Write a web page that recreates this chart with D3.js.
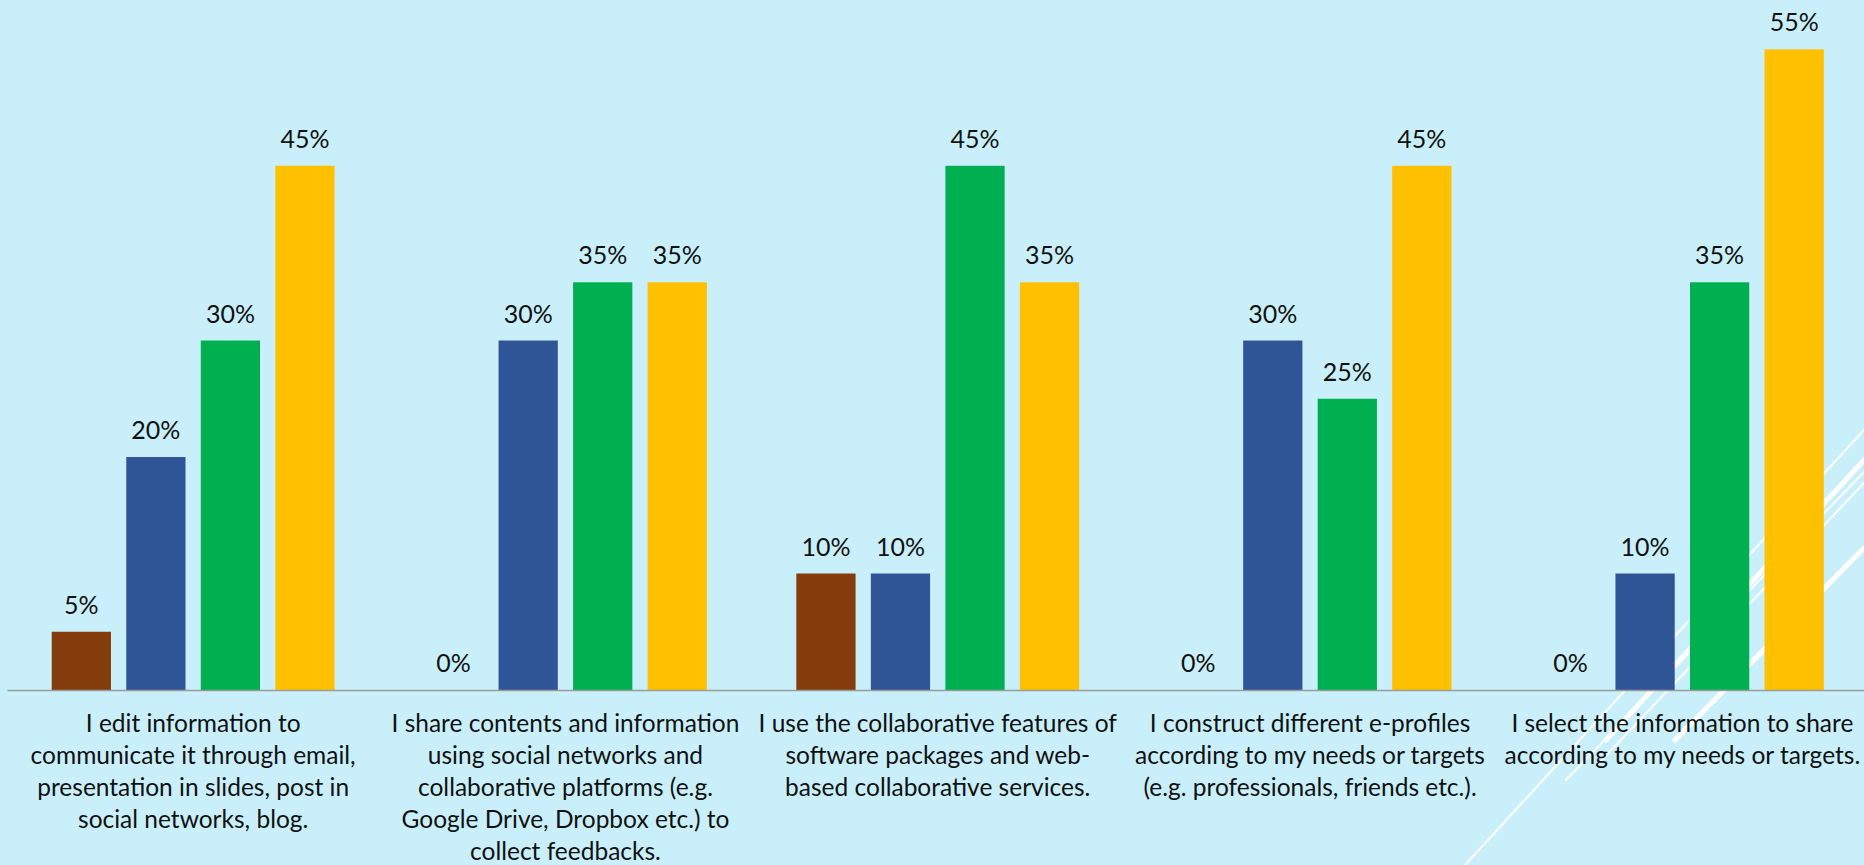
<!DOCTYPE html>
<html>
<head>
<meta charset="utf-8">
<script src="https://cdn.jsdelivr.net/npm/d3@7/dist/d3.min.js"></script>
<style>
  html, body { margin: 0; padding: 0; background: #C9F0FA; overflow: hidden; }
  svg { display: block; }
  text { font-family: "Lato", "Open Sans", sans-serif; fill: #111; }
</style>
</head>
<body>
<svg id="chart" width="1864" height="865"></svg>
<script>
// Survey statements (each entry is the wrapped label, one string per line)
const categories = [
  ["I edit information to", "communicate it through email,", "presentation in slides, post in", "social networks, blog."],
  ["I share contents and information", "using social networks and", "collaborative platforms (e.g.", "Google Drive, Dropbox etc.) to", "collect feedbacks."],
  ["I use the collaborative features of", "software packages and web-", "based collaborative services."],
  ["I construct different e-profiles", "according to my needs or targets", "(e.g. professionals, friends etc.)."],
  ["I select the information to share", "according to my needs or targets."]
];

// Response levels, one series per level (percent of respondents)
const seriesNames = ["level1", "level2", "level3", "level4"];
const level1 = [5, 0, 10, 0, 0];
const level2 = [20, 30, 10, 30, 10];
const level3 = [30, 35, 45, 25, 35];
const level4 = [45, 35, 35, 45, 55];
const seriesValues = [level1, level2, level3, level4];
const seriesColors = ["#843C0C", "#2F5597", "#00B050", "#FFC000"];

const W = 1864, H = 865;
const svg = d3.select("#chart");

// Background
svg.append("rect").attr("width", W).attr("height", H).attr("fill", "#C9F0FA");

// Decorative white diagonal strokes in the lower-right corner
const deco = [
  { x1: 1465, y1: 865, x2: 1864, y2: 430, w: 2 },
  { x1: 1606, y1: 740, x2: 1864, y2: 460, w: 5 },
  { x1: 1566, y1: 780, x2: 1864, y2: 472, w: 2 },
  { x1: 1600, y1: 762, x2: 1864, y2: 483, w: 2 },
  { x1: 1675, y1: 740, x2: 1864, y2: 548, w: 5 }
];
svg.append("g").selectAll("line").data(deco).join("line")
  .attr("x1", d => d.x1).attr("y1", d => d.y1)
  .attr("x2", d => d.x2).attr("y2", d => d.y2)
  .attr("stroke", "#ffffff").attr("stroke-width", d => d.w)
  .attr("stroke-linecap", "round");

// Scales
const x0 = d3.scaleBand().domain(d3.range(categories.length)).range([7, 1868.5]).padding(0);
const x1 = d3.scaleBand().domain(seriesNames).range([0, x0.bandwidth()])
  .paddingInner(0.205).paddingOuter(0.6);
const y = d3.scaleLinear().domain([0, 55]).range([690, 49.3]);

// Bars
const rows = [];
seriesNames.forEach((s, si) => {
  seriesValues[si].forEach((v, ci) => rows.push({ s, si, ci, v }));
});

const g = svg.append("g");
g.selectAll("rect.bar").data(rows).join("rect")
  .attr("class", "bar")
  .attr("x", d => x0(d.ci) + x1(d.s))
  .attr("y", d => y(d.v))
  .attr("width", x1.bandwidth())
  .attr("height", d => y(0) - y(d.v))
  .attr("fill", d => seriesColors[d.si]);

// Value labels
g.selectAll("text.val").data(rows).join("text")
  .attr("class", "val")
  .attr("x", d => x0(d.ci) + x1(d.s) + x1.bandwidth() / 2)
  .attr("y", d => y(d.v) - 18)
  .attr("text-anchor", "middle")
  .style("font-size", "25px")
  .text(d => d.v + "%");

// Category axis baseline
const axis = d3.axisBottom(x0).tickSize(0).tickFormat("");
const axisG = svg.append("g").attr("transform", `translate(0,${y(0)})`).call(axis);
axisG.select(".domain").attr("stroke", "#9a9a9a").attr("stroke-width", 1.5);

// Multi-line category labels
const lab = svg.append("g").selectAll("text.cat").data(categories).join("text")
  .attr("class", "cat")
  .attr("text-anchor", "middle")
  .style("font-size", "24.5px")
  .attr("transform", (d, i) => `translate(${x0(i) + x0.bandwidth() / 2},${y(0) + 42})`);
lab.selectAll("tspan").data(d => d).join("tspan")
  .attr("x", 0)
  .attr("dy", (d, i) => i === 0 ? 0 : 32)
  .text(d => d);
</script>
</body>
</html>
